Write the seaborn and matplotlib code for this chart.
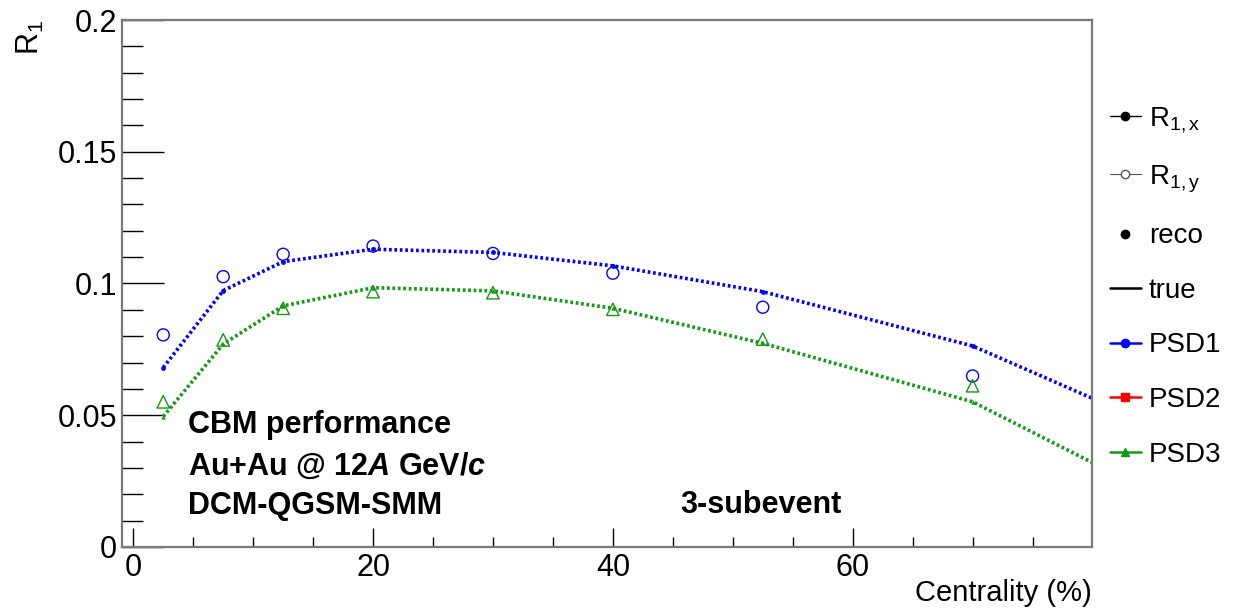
import numpy as np
import pandas as pd
import matplotlib
matplotlib.use("Agg")
import matplotlib.pyplot as plt
from matplotlib.lines import Line2D
from matplotlib.ticker import MultipleLocator, FuncFormatter
import seaborn as sns

# ---- data ----
centrality = [2.5, 7.5, 12.5, 20, 30, 40, 52.5, 70]
psd1_r1x = [0.0681, 0.0973, 0.1083, 0.1130, 0.1118, 0.1067, 0.0969, 0.0763]
psd1_r1y = [0.0805, 0.1026, 0.1111, 0.1142, 0.1114, 0.1039, 0.0910, 0.0649]
psd3_r1x = [0.0495, 0.0770, 0.0915, 0.0984, 0.0972, 0.0906, 0.0773, 0.0551]
psd3_r1y = [0.0551, 0.0786, 0.0906, 0.0969, 0.0965, 0.0902, 0.0789, 0.0612]
# last bin (80-100 %) lies outside the visible axis range; only its line segment shows
tail_x = [90]
psd1_tail = [0.0365]
psd3_tail = [0.0089]

legend_labels = ["R$_{\\mathrm{1,x}}$", "R$_{\\mathrm{1,y}}$", "reco", "true",
                 "PSD1", "PSD2", "PSD3"]
annot_lines = ["CBM performance", "Au+Au @ 12$\\mathbfit{A}$ GeV/$\\mathbfit{c}$",
               "DCM-QGSM-SMM"]

BLUE = "#0000ff"
GREEN = "#129a12"
RED = "#ff0000"

sns.set_theme(style="ticks")
plt.rcParams["font.family"] = ["Liberation Sans", "DejaVu Sans"]
plt.rcParams["mathtext.fontset"] = "custom"
plt.rcParams["mathtext.rm"] = "Liberation Sans"
plt.rcParams["mathtext.it"] = "Liberation Sans:italic"
plt.rcParams["mathtext.bf"] = "Liberation Sans:bold"
plt.rcParams["mathtext.bfit"] = "Liberation Sans:bold:italic"
for k in ["text.color", "axes.labelcolor", "xtick.color", "ytick.color"]:
    plt.rcParams[k] = "black"

fig = plt.figure(figsize=(12.34, 6.10), dpi=100)
ax = fig.add_axes([122 / 1234, 1 - 547 / 610, (1092 - 122) / 1234, (547 - 20) / 610])

line_df = pd.DataFrame({
    "x": centrality + tail_x + centrality + tail_x,
    "y": psd1_r1x + psd1_tail + psd3_r1x + psd3_tail,
    "det": ["PSD1"] * 9 + ["PSD3"] * 9,
})
for det, col in [("PSD1", BLUE), ("PSD3", GREEN)]:
    sub = line_df[line_df.det == det]
    sns.lineplot(data=sub, x="x", y="y", ax=ax, color=col, lw=2.6,
                 linestyle=(0, (0.75, 0.75)), sort=False, estimator=None,
                 legend=False)

# small filled reco markers on the R1,x lines
sns.scatterplot(x=centrality, y=psd1_r1x, ax=ax, color=BLUE, s=12,
                marker="o", linewidth=0, legend=False, zorder=4)
sns.scatterplot(x=centrality, y=psd3_r1x, ax=ax, color=GREEN, s=10,
                marker="^", linewidth=0, legend=False, zorder=4)

# open markers for R1,y
sns.scatterplot(x=centrality, y=psd1_r1y, ax=ax, marker="o", s=75,
                facecolor="none", edgecolor=BLUE, linewidth=1.0,
                legend=False, zorder=5)
sns.scatterplot(x=centrality, y=psd3_r1y, ax=ax, marker="^", s=80,
                facecolor="none", edgecolor=GREEN, linewidth=1.0,
                legend=False, zorder=5)

ax.set_xlim(-0.94, 79.96)
ax.set_ylim(0, 0.2)
ax.xaxis.set_major_locator(MultipleLocator(20))
ax.xaxis.set_minor_locator(MultipleLocator(5))
ax.yaxis.set_major_locator(MultipleLocator(0.05))
ax.yaxis.set_minor_locator(MultipleLocator(0.01))
ax.yaxis.set_major_formatter(FuncFormatter(lambda v, p: "%g" % round(v, 3)))
ax.xaxis.set_major_formatter(FuncFormatter(lambda v, p: "%g" % v))

ax.tick_params(axis="both", which="both", direction="in", colors="black",
               labelsize=22, width=1.0)
ax.tick_params(axis="x", which="major", length=14, pad=4)
ax.tick_params(axis="x", which="minor", length=7)
ax.tick_params(axis="y", which="major", length=30, pad=3.5)
ax.tick_params(axis="y", which="minor", length=15)
ax.tick_params(top=False, right=False)
for s in ax.spines.values():
    s.set_visible(True)
    s.set_color("#7a7a7a")
    s.set_linewidth(1.6)

ax.set_xlabel("Centrality (%)", fontsize=21, loc="right")
ax.xaxis.set_label_coords(1.0, -0.114)
ax.xaxis.label.set_va("bottom")
ax.set_ylabel("R$_{\\mathrm{1}}$", fontsize=22, loc="top")
ax.yaxis.set_label_coords(-0.078, 1.0)

# annotations
ys = [425, 467, 506]
for t, yp in zip(annot_lines, ys):
    fig.text(188 / 1234, 1 - yp / 610, t, fontsize=22, fontweight="bold",
             ha="left", va="center")
fig.text(680 / 1234, 1 - 505 / 610, "3-subevent", fontsize=22,
         fontweight="bold", ha="left", va="center")

# legend
handles = [
    Line2D([], [], color="black", lw=1.0, marker="o", ms=6,
           markerfacecolor="black", markeredgecolor="black"),
    Line2D([], [], color="#555555", lw=0.8, marker="o", ms=6,
           markerfacecolor="white", markeredgecolor="#555555"),
    Line2D([], [], color="black", lw=0, marker="o", ms=6),
    Line2D([], [], color="black", lw=1.8),
    Line2D([], [], color=BLUE, lw=1.8, marker="o", ms=6),
    Line2D([], [], color=RED, lw=1.8, marker="s", ms=6),
    Line2D([], [], color=GREEN, lw=1.8, marker="^", ms=6),
]
fig.legend(handles, legend_labels, loc="upper left",
           bbox_to_anchor=(1110 / 1234, 1 - 105 / 610), frameon=False,
           fontsize=20, handlelength=1.1, handletextpad=0.3,
           labelspacing=1.03, borderaxespad=0, borderpad=0)

fig.savefig("out.png", dpi=100)
